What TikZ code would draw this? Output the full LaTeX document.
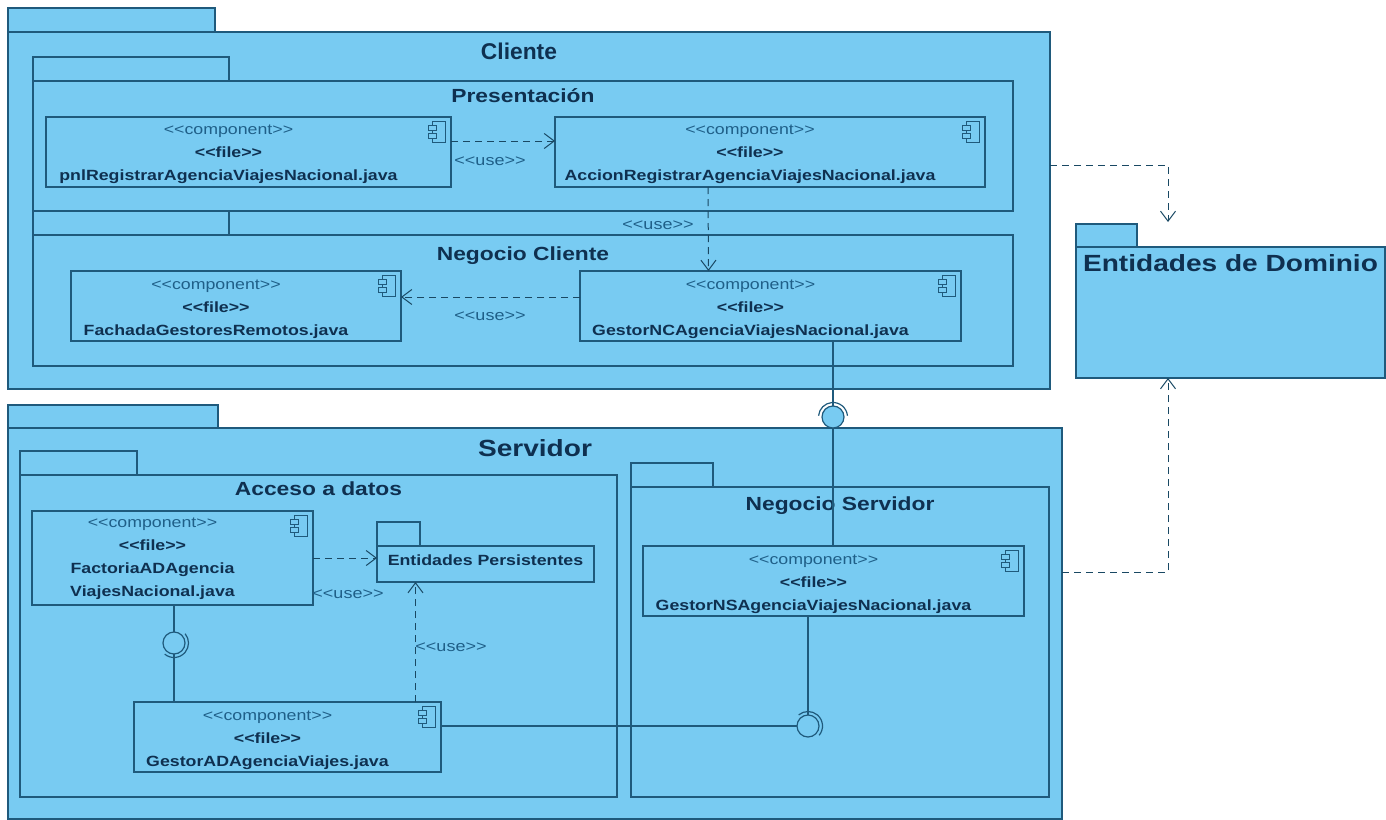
\documentclass[tikz,border=0pt]{standalone}
\usepackage{fontspec}
\setmainfont[FakeStretch=1.2]{Liberation Sans}
\newfontfamily\tallfont{Liberation Sans}
\usepackage{xcolor}
\usetikzlibrary{arrows.meta,positioning,calc}

\definecolor{pkgfill}{HTML}{78CBF2}
\definecolor{pkgline}{HTML}{1F5A7C}
\definecolor{pkgtext}{HTML}{0F3050}
\definecolor{stereotext}{HTML}{1F5F88}

\tikzset{
    pkgbody/.style={draw=pkgline, fill=pkgfill, rectangle, line width=1.2pt, outer sep=0pt, inner sep=0pt},
    pkgtab/.style={pkgbody, minimum height=24pt},
    pkgtitle/.style={inner sep=0pt, text=pkgtext, font=\fontsize{19}{22}\selectfont\bfseries},
    bigtitle/.style={pkgtitle, font=\fontsize{23.4}{26}\selectfont\bfseries},
    compbox/.style={pkgbody, minimum height=70pt},
    comptext/.style={inner sep=0pt, align=center, text=pkgtext, font=\fontsize{14.8}{23}\selectfont\bfseries},
    usetext/.style={inner sep=0pt, text=stereotext, font=\fontsize{15}{17}\selectfont},
    dep/.style={draw=pkgline!80!black, line width=1pt, dash pattern=on 7pt off 5pt, -{Straight Barb[length=10pt,width=15pt]}},
    wire/.style={draw=pkgline, line width=1.2pt},
    ball/.style={draw=pkgline, fill=pkgfill, circle, line width=1.2pt, minimum size=22pt, inner sep=0pt, outer sep=0pt},
    socket/.pic={\draw[wire] (5:14.5pt) arc[start angle=5, end angle=175, radius=14.5pt];},
    compicon/.pic={
        \draw[pkgline, line width=1pt] (-13,0) rectangle (0,21);
        \draw[pkgline, fill=pkgfill, line width=1pt] (-17,4) rectangle (-9,9);
        \draw[pkgline, fill=pkgfill, line width=1pt] (-17,12) rectangle (-9,17);
    }
}
\newcommand{\stereo}[1]{{\mdseries\color{stereotext}<{}<component>{}>}\\<{}<file>{}>\\#1}
\newcommand{\usemark}{<{}<use>{}>}

\begin{document}
\begin{tikzpicture}[x=1pt, y=-1pt]
    \useasboundingbox (0,0) rectangle (1386,819);

    % Cliente package
    \node[pkgbody, minimum width=1042pt, minimum height=357pt, anchor=north west] (cliente) at (8,32) {};
    \node[pkgtab, minimum width=207pt, above right=0pt and 0pt of cliente.north west] (clienteTab) {};
    \node[pkgtitle, font=\tallfont\fontsize{22.8}{26}\selectfont\bfseries, below=11pt of cliente.north, xshift=-10pt] (clienteTitle) {Cliente};

    % Presentacion and Negocio Cliente
    \node[pkgbody, minimum width=980pt, minimum height=130pt, anchor=north west] (presenta) at (33,81) {};
    \node[pkgtab, minimum width=196pt, above right=0pt and 0pt of presenta.north west] (presentaTab) {};
    \node[pkgtitle, below=7pt of presenta.north] (presentaTitle) {Presentación};
    \node[pkgbody, minimum width=980pt, minimum height=131pt, anchor=north west] (negocioC) at (33,235) {};
    \node[pkgtab, minimum width=196pt, above right=0pt and 0pt of negocioC.north west] (negocioCTab) {};
    \node[pkgtitle, below=12pt of negocioC.north] (negocioCTitle) {Negocio Cliente};

    % Servidor package
    \node[pkgbody, minimum width=1054pt, minimum height=391pt, anchor=north west] (servidor) at (8,428) {};
    \node[pkgtab, minimum width=210pt, minimum height=23pt, above right=0pt and 0pt of servidor.north west] (servidorTab) {};
    \node[bigtitle, below=11pt of servidor.north] (servidorTitle) {Servidor};

    % Acceso a datos and Negocio Servidor
    \node[pkgbody, minimum width=597pt, minimum height=322pt, anchor=north west] (acceso) at (20,475) {};
    \node[pkgtab, minimum width=117pt, above right=0pt and 0pt of acceso.north west] (accesoTab) {};
    \node[pkgtitle, below=7pt of acceso.north] (accesoTitle) {Acceso a datos};
    \node[pkgbody, minimum width=418pt, minimum height=310pt, anchor=north west] (negocioS) at (631,487) {};
    \node[pkgtab, minimum width=82pt, above right=0pt and 0pt of negocioS.north west] (negocioSTab) {};
    \node[pkgtitle, below=10pt of negocioS.north] (negocioSTitle) {Negocio Servidor};

    % Entidades de Dominio
    \node[pkgbody, minimum width=309pt, minimum height=131pt, anchor=north west] (dominio) at (1076,247) {};
    \node[pkgtab, minimum width=61pt, minimum height=23pt, above right=0pt and 0pt of dominio.north west] (dominioTab) {};
    \node[bigtitle, below=7pt of dominio.north] (dominioTitle) {Entidades de Dominio};

    % Entidades Persistentes
    \node[pkgbody, minimum width=217pt, minimum height=36pt, anchor=north west] (persist) at (377,546) {};
    \node[pkgtab, minimum width=43pt, above right=0pt and 0pt of persist.north west] (persistTab) {};
    \node[comptext, yshift=4pt] (persistTitle) at (persist) {Entidades Persistentes};

    % Components
    \node[compbox, minimum width=405pt, anchor=north west] (pnl) at (46,117) {};
    \node[compbox, minimum width=430pt, right=104pt of pnl] (accion) {};
    \node[compbox, minimum width=330pt, anchor=north west] (fachada) at (71,271) {};
    \node[compbox, minimum width=381pt, right=179pt of fachada] (gestorNC) {};
    \node[compbox, minimum width=281pt, minimum height=94pt, anchor=north west] (factoria) at (32,511) {};
    \node[compbox, minimum width=307pt, anchor=north west] (gestorAD) at (134,702) {};
    \node[compbox, minimum width=381pt, anchor=north west] (gestorNS) at (643,546) {};

    \node[comptext, xshift=-20pt, yshift=-2pt] (pnlText) at (pnl) {\stereo{pnlRegistrarAgenciaViajesNacional.java}};
    \node[comptext, xshift=-20pt, yshift=-2pt] (accionText) at (accion) {\stereo{AccionRegistrarAgenciaViajesNacional.java}};
    \node[comptext, xshift=-20pt, yshift=-3pt] (fachadaText) at (fachada) {\stereo{FachadaGestoresRemotos.java}};
    \node[comptext, xshift=-20pt, yshift=-3pt] (gestorNCText) at (gestorNC) {\stereo{GestorNCAgenciaViajesNacional.java}};
    \node[comptext, xshift=-20pt, yshift=-1pt] (factoriaText) at (factoria) {\stereo{FactoriaADAgencia\\ViajesNacional.java}};
    \node[comptext, xshift=-20pt, yshift=-3pt] (gestorADText) at (gestorAD) {\stereo{GestorADAgenciaViajes.java}};
    \node[comptext, xshift=-20pt, yshift=-3pt] (gestorNSText) at (gestorNS) {\stereo{GestorNSAgenciaViajesNacional.java}};

    \foreach \comp in {pnl,accion,fachada,gestorNC,factoria,gestorAD,gestorNS}
        \pic at ([shift={(-6,4)}]\comp.north east) {compicon};

    % Dependencies
    \draw[dep] ([yshift=11pt]pnl.east) -- ([yshift=11pt]accion.west);
    \draw[dep] ([xshift=-62pt]accion.south) -- ([xshift=-62pt]gestorNC.north);
    \draw[dep] ([yshift=9pt]gestorNC.west) -- ([yshift=9pt]fachada.east);
    \draw[dep] (factoria.east) -- ([yshift=6pt]persist.west);
    \draw[dep] ([xshift=-70pt]persist.south |- gestorAD.north) -- ([xshift=-70pt]persist.south);

    \coordinate (elbowA) at (1168,165);
    \coordinate (domIn) at (1168,222);
    \coordinate (elbowB) at (1168,572);
    \draw[dep] (elbowA -| cliente.east) -- (elbowA) -- (domIn);
    \draw[dep] (elbowB -| servidor.east) -- (elbowB) -- (elbowB |- dominio.south);

    \node[usetext] (usePnl) at (490,161) {\usemark};
    \node[usetext] (useAccion) at (658,225) {\usemark};
    \node[usetext] (useNC) at (490,316) {\usemark};
    \node[usetext] (useFact) at (348,594) {\usemark};
    \node[usetext] (useAD) at (451,647) {\usemark};

    % Interfaces
    \node[ball] (ballA) at (833,417) {};
    \node[ball] (ballB) at (174,643) {};
    \node[ball] (ballC) at (808,726) {};
    \pic at (ballA) {socket};
    \pic[rotate=-135] at (ballB) {socket};
    \pic[rotate=-45] at (ballC) {socket};

    \draw[wire] (ballA |- gestorNC.south) -- (ballA.north);
    \draw[wire] (ballA.south) -- (ballA.south |- gestorNS.north);
    \draw[wire] (ballB |- factoria.south) -- (ballB.north);
    \draw[wire] (ballB.south) -- (ballB.south |- gestorAD.north);
    \draw[wire] (gestorAD.east |- ballC) -- (ballC.west);
    \draw[wire] (ballC |- gestorNS.south) -- (ballC.north);
\end{tikzpicture}
\end{document}
